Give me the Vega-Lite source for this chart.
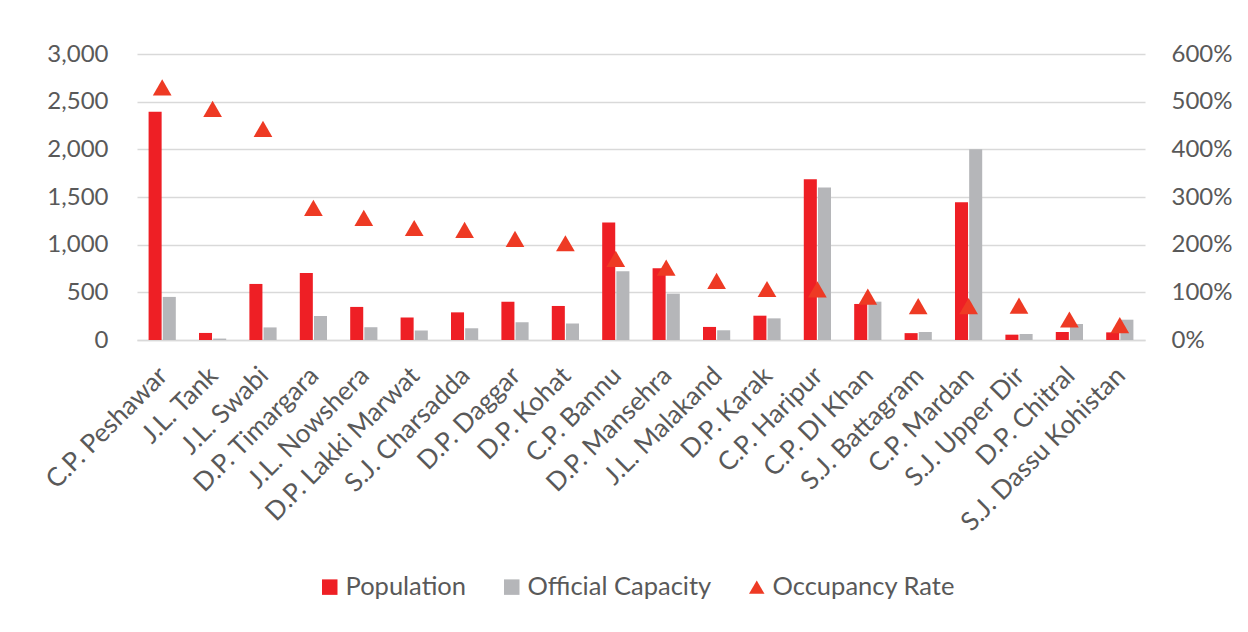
{
  "$schema": "https://vega.github.io/schema/vega-lite/v6.json",
  "autosize": {"type": "none"},
  "width": 1008,
  "height": 286,
  "padding": {"left": 137, "top": 54, "right": 103, "bottom": 292},
  "background": "white",
  "config": {
    "view": {"stroke": null},
    "font": "Lato",
    "axis": {"labelColor": "#595959", "labelFont": "Lato", "ticks": false, "domain": false, "titleColor": "#595959"},
    "legend": {"labelColor": "#595959", "labelFont": "Lato"}
  },
  "data": {
    "values": [
      {"prison": "C.P. Peshawar", "Population": 2395, "Official Capacity": 452, "rate": 5.30},
      {"prison": "J.L. Tank", "Population": 74, "Official Capacity": 15, "rate": 4.85},
      {"prison": "J.L. Swabi", "Population": 588, "Official Capacity": 132, "rate": 4.43},
      {"prison": "D.P. Timargara", "Population": 704, "Official Capacity": 252, "rate": 2.77},
      {"prison": "J.L. Nowshera", "Population": 347, "Official Capacity": 134, "rate": 2.56},
      {"prison": "D.P. Lakki Marwat", "Population": 237, "Official Capacity": 99, "rate": 2.35},
      {"prison": "S.J. Charsadda", "Population": 290, "Official Capacity": 123, "rate": 2.31},
      {"prison": "D.P. Daggar", "Population": 402, "Official Capacity": 185, "rate": 2.12},
      {"prison": "D.P. Kohat", "Population": 357, "Official Capacity": 172, "rate": 2.03},
      {"prison": "C.P. Bannu", "Population": 1232, "Official Capacity": 721, "rate": 1.70},
      {"prison": "D.P. Mansehra", "Population": 752, "Official Capacity": 486, "rate": 1.52},
      {"prison": "J.L. Malakand", "Population": 137, "Official Capacity": 102, "rate": 1.24},
      {"prison": "D.P. Karak", "Population": 255, "Official Capacity": 227, "rate": 1.07},
      {"prison": "C.P. Haripur", "Population": 1687, "Official Capacity": 1600, "rate": 1.06},
      {"prison": "C.P. DI Khan", "Population": 378, "Official Capacity": 402, "rate": 0.91},
      {"prison": "S.J. Battagram", "Population": 72, "Official Capacity": 84, "rate": 0.71},
      {"prison": "C.P. Mardan", "Population": 1445, "Official Capacity": 2000, "rate": 0.71},
      {"prison": "S.J. Upper Dir", "Population": 56, "Official Capacity": 63, "rate": 0.72},
      {"prison": "D.P. Chitral", "Population": 84, "Official Capacity": 168, "rate": 0.43},
      {"prison": "S.J. Dassu Kohistan", "Population": 80, "Official Capacity": 213, "rate": 0.31}
    ]
  },
  "layer": [
    {
      "transform": [{"fold": ["Population", "Official Capacity"], "as": ["series", "value"]}],
      "mark": {"type": "bar"},
      "encoding": {
        "x": {
          "field": "prison", "type": "nominal", "sort": null,
          "scale": {"paddingInner": 0.46, "paddingOuter": 0.23},
          "axis": {"title": null, "labelAngle": -45, "labelFontSize": 26, "labelPadding": 22, "labelOffset": -8, "labelLimit": 0, "domain": true, "domainColor": "#D9D9D9", "domainWidth": 1.5}
        },
        "xOffset": {"field": "series", "type": "nominal", "sort": ["Population", "Official Capacity"], "scale": {"paddingInner": 0.08}},
        "y": {
          "field": "value", "type": "quantitative",
          "scale": {"domain": [0, 3000]},
          "axis": {"title": null, "values": [0, 500, 1000, 1500, 2000, 2500, 3000], "format": ",.0f", "labelFontSize": 24, "labelPadding": 29, "grid": true, "gridColor": "#D9D9D9", "gridWidth": 1.5}
        },
        "color": {
          "field": "series", "type": "nominal",
          "scale": {"domain": ["Population", "Official Capacity", "Occupancy Rate"], "range": ["#EE1F25", "#B5B6B9", "#EE3A24"]},
          "legend": {
            "title": null, "orient": "none", "legendX": 180, "legendY": 520, "direction": "horizontal",
            "labelFontSize": 25.5, "labelLimit": 0, "symbolSize": 240, "symbolType": "square", "columnPadding": 32, "labelOffset": 3,
            "encode": {"symbols": {"update": {"shape": {"signal": "datum.value === 'Occupancy Rate' ? 'triangle-up' : 'square'"}}}}
          }
        }
      }
    },
    {
      "mark": {"type": "point", "shape": "triangle-up", "filled": true, "size": 350, "opacity": 1},
      "encoding": {
        "x": {"field": "prison", "type": "nominal", "sort": null},
        "y": {
          "field": "rate", "type": "quantitative",
          "scale": {"domain": [0, 6]},
          "axis": {"title": null, "orient": "right", "values": [0, 1, 2, 3, 4, 5, 6], "format": ".0%", "labelFontSize": 24, "labelPadding": 26, "grid": false}
        },
        "color": {"datum": "Occupancy Rate", "type": "nominal"}
      }
    }
  ],
  "resolve": {"scale": {"y": "independent"}}
}
